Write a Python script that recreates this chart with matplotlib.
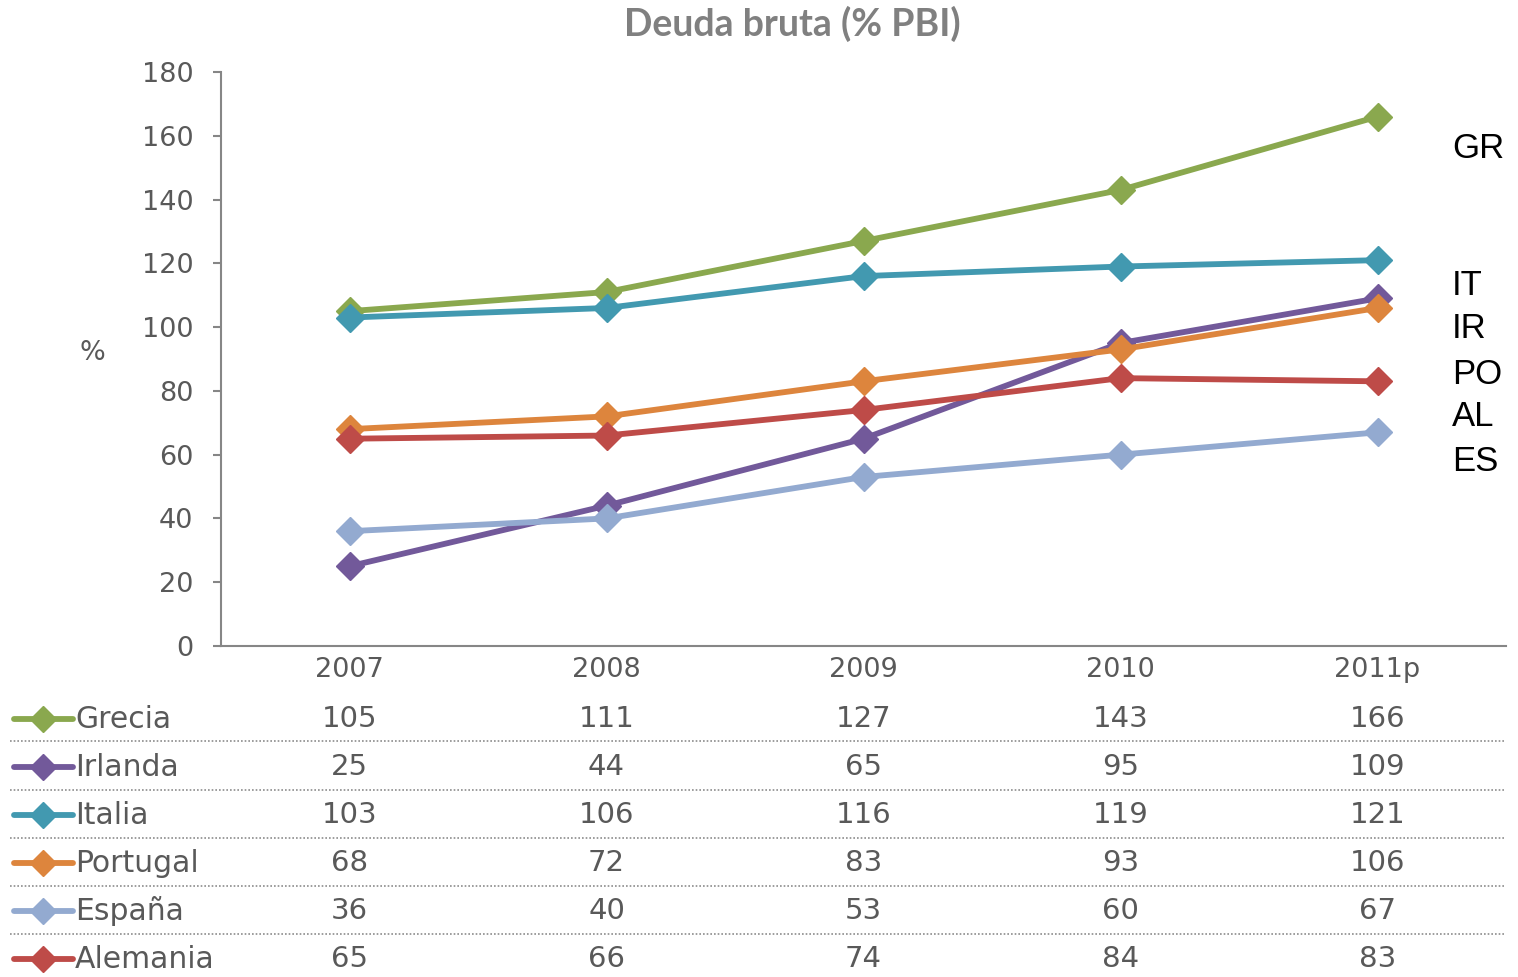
import numpy as np
import matplotlib.pyplot as plt

# data
years = ["2007", "2008", "2009", "2010", "2011p"]
countries = ["Grecia", "Irlanda", "Italia", "Portugal", "España", "Alemania"]
grecia = [105, 111, 127, 143, 166]
irlanda = [25, 44, 65, 95, 109]
italia = [103, 106, 116, 119, 121]
portugal = [68, 72, 83, 93, 106]
espana = [36, 40, 53, 60, 67]
alemania = [65, 66, 74, 84, 83]
series = [grecia, irlanda, italia, portugal, espana, alemania]
colors = ["#8AA84E", "#72599A", "#4299B0", "#DD853D", "#93AAD0", "#BE4B48"]

side_labels = ["GR", "IT", "IR", "PO", "AL", "ES"]
side_values = [156, 113, 99.5, 85, 72, 58]

gray = "#595959"
axis_gray = "#868686"

fig = plt.figure(figsize=(15.18, 9.77), dpi=100)
ax = fig.add_axes([0.1456, 0.3388, 0.8465, 0.5875])

x = np.arange(len(years))
for vals, col in zip(series, colors):
    ax.plot(x, vals, color=col, lw=4.2, marker="D", ms=14,
            markeredgecolor=col, markeredgewidth=1, solid_capstyle="round")

ax.set_xlim(-0.5, 4.5)
ax.set_ylim(0, 180)
ax.set_yticks(range(0, 181, 20))
ax.set_xticks([])
for s in ["top", "right"]:
    ax.spines[s].set_visible(False)
for s in ["left", "bottom"]:
    ax.spines[s].set_color(axis_gray)
    ax.spines[s].set_linewidth(1.5)
ax.tick_params(axis="y", colors=axis_gray, labelcolor=gray, labelsize=19.5,
               length=6, width=1.5, pad=14)

W, H = 1518, 977
fig.text(792 / W, 1 - 24 / H, "Deuda bruta (% PBI)", fontsize=27,
         fontweight="bold", color="#808080", family="Lato",
         ha="center", va="center")
fig.text(92 / W, 1 - 353 / H, "%", fontsize=19.5, color=gray,
         ha="center", va="center")

# country abbreviations on the right
for lab, v in zip(side_labels, side_values):
    ax.text(4.29, v, lab, fontsize=25, family="Liberation Sans", color="black",
            ha="left", va="center", clip_on=False)

# data table below the axis
for i, yr in enumerate(years):
    xf = ax.transData.transform((i, 0))[0]
    fig.text(xf / W, 1 - 670 / H, yr, fontsize=19.5, color=gray,
             ha="center", va="center")

row_y = [719, 767, 815, 863, 911, 959]
for name, vals, col, ry in zip(countries, series, colors, row_y):
    yf = 1 - ry / H
    fig.add_artist(plt.Line2D([14 / W, 73 / W], [yf, yf], color=col, lw=4.2,
                              solid_capstyle="round"))
    fig.add_artist(plt.Line2D([43 / W], [yf], color=col, marker="D", ms=13,
                              markeredgecolor=col, markeredgewidth=1))
    fig.text(75 / W, yf, name, fontsize=21.5, color=gray, ha="left", va="center")
    for i, v in enumerate(vals):
        xf = ax.transData.transform((i, 0))[0]
        fig.text(xf / W, yf, str(v), fontsize=21, color=gray,
                 ha="center", va="center")

for sy in [741, 790, 838, 886, 934]:
    yf = 1 - sy / H
    fig.add_artist(plt.Line2D([10 / W, 1505 / W], [yf, yf], color="#8C8C8C",
                              lw=1.2, ls=(0, (1, 1.2))))

fig.savefig("out.png", dpi=100)
